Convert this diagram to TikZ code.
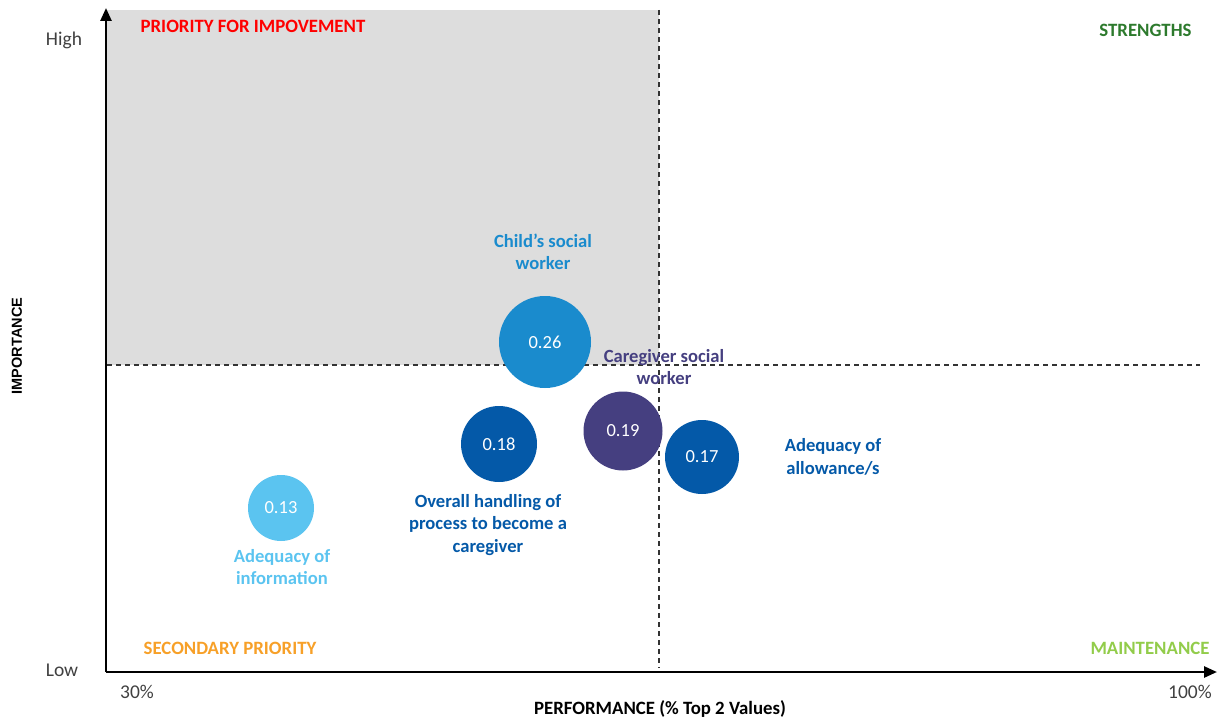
\documentclass[tikz,border=0pt]{standalone}
\usepackage{fontspec}
\setmainfont{Carlito}
\newfontfamily\arialfont{Liberation Sans}
\usepackage{tikz}
\usetikzlibrary{arrows.meta}

\definecolor{greyzone}{HTML}{DDDDDD}
\definecolor{lightblue}{HTML}{1A8BCD}
\definecolor{darkblue}{HTML}{0459A8}
\definecolor{violet}{HTML}{453F80}
\definecolor{skyblue}{HTML}{5BC4F0}
\definecolor{redtxt}{HTML}{FF0000}
\definecolor{darkgreen}{HTML}{2D7A2D}
\definecolor{lightgreen}{HTML}{92CC4A}
\definecolor{orangetxt}{HTML}{F7A028}
\definecolor{axistxt}{HTML}{404040}

\tikzset{
  bubble/.style={circle, inner sep=0pt, text=white, font=\fontsize{18.5}{22}\selectfont},
  bublabel/.style={align=center, font=\bfseries\fontsize{18.6}{22.5}\selectfont},
  quadrant/.style={font=\bfseries\fontsize{18.8}{21}\selectfont},
  ticktxt/.style={text=axistxt, font=\fontsize{19.5}{22}\selectfont},
  divider/.style={black!80, line width=1.4pt, dash pattern=on 5pt off 4pt}
}

\begin{document}
\begin{tikzpicture}[x=1pt, y=-1pt]
        \useasboundingbox (0,0) rectangle (1220,719);

        % shaded quadrant
        \fill[greyzone] (107,10) rectangle (659,365);

        % dividers
        \draw[divider] (659,10) -- (659,668);
        \draw[divider] (107,365) -- (1200,365);

        % axes
        \coordinate (origin) at (106,672);
        \coordinate (ytop) at (106,8);
        \coordinate (xend) at (1217,672);
        \draw[black, line width=2.6pt, -{Triangle[length=13pt,width=11pt]}] (origin) -- (ytop);
        \draw[black, line width=2.6pt, -{Triangle[length=13pt,width=11pt]}] (origin) -- (xend);

        % axis texts
        \node[ticktxt] (high) at (64,40) {High};
        \node[ticktxt] (low) at (62,670) {Low};
        \node[ticktxt] (min) at (137,692) {30\%};
        \node[ticktxt] (max) at (1190,692) {100\%};
        \node[font=\bfseries\fontsize{18.8}{21}\selectfont] (xtitle) at (660,709) {PERFORMANCE (\% Top 2 Values)};
        \node[rotate=90, font=\arialfont\bfseries\fontsize{14.5}{17}\selectfont] (ytitle) at (17,346) {IMPORTANCE};

        % quadrant names
        \node[quadrant, text=redtxt] (q1) at (253,26) {PRIORITY FOR IMPOVEMENT};
        \node[quadrant, text=darkgreen, anchor=east] (q2) at (1195,30) {STRENGTHS};
        \node[quadrant, text=orangetxt] (q3) at (230,648) {SECONDARY PRIORITY};
        \node[quadrant, text=lightgreen, anchor=east] (q4) at (1213,648) {MAINTENANCE};

        % bubbles
        \node[bubble, fill=lightblue, minimum size=92pt] (child) at (545,342) {0.26};
        \node[bubble, fill=darkblue, minimum size=76pt] (overall) at (499,444) {0.18};
        \node[bubble, fill=violet, minimum size=79pt] (carer) at (623,431) {0.19};
        \node[bubble, fill=darkblue, minimum size=74pt] (allow) at (702,457) {0.17};
        \node[bubble, fill=skyblue, minimum size=66pt] (info) at (281,508) {0.13};

        % bubble labels
        \node[bublabel, text=lightblue] (childlbl) at (543,252) {Child’s social\\worker};
        \node[bublabel, text=violet] (carerlbl) at (664,367) {Caregiver social\\worker};
        \node[bublabel, text=darkblue] (allowlbl) at (833,457) {Adequacy of\\allowance/s};
        \node[bublabel, text=darkblue] (overalllbl) at (488,525) {Overall handling of\\process to become a\\caregiver};
        \node[bublabel, text=skyblue] (infolbl) at (282,567) {Adequacy of\\information};

        \end{tikzpicture}
\end{document}
